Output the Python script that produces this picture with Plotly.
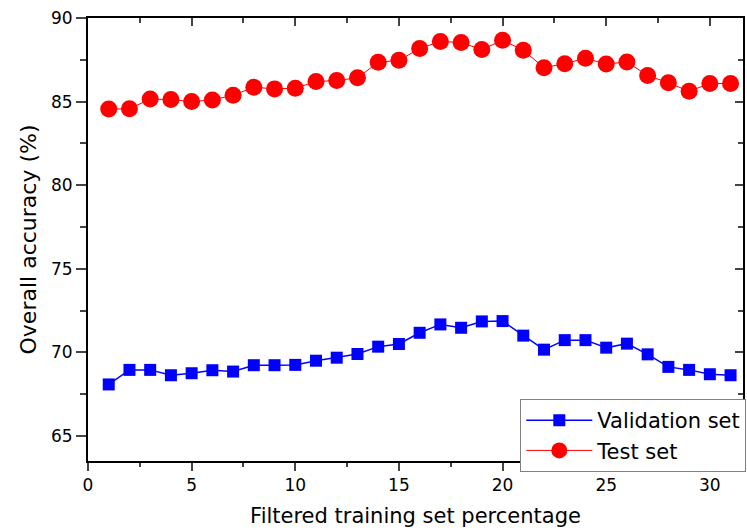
import plotly.graph_objects as go

x_pct = list(range(1, 32))
validation = [68.08, 68.95, 68.95, 68.63, 68.75, 68.93, 68.85, 69.23, 69.23, 69.25,
              69.50, 69.68, 69.90, 70.34, 70.50, 71.17, 71.67, 71.47, 71.85, 71.87,
              71.00, 70.16, 70.73, 70.73, 70.28, 70.52, 69.88, 69.13, 68.95, 68.69, 68.63]
test = [84.55, 84.57, 85.15, 85.12, 85.00, 85.10, 85.38, 85.86, 85.76, 85.80,
        86.20, 86.26, 86.42, 87.35, 87.47, 88.17, 88.60, 88.53, 88.11, 88.67,
        88.07, 87.03, 87.27, 87.59, 87.25, 87.37, 86.56, 86.12, 85.62, 86.08, 86.08]
x_ticks = [0, 5, 10, 15, 20, 25, 30]
y_ticks = [65, 70, 75, 80, 85, 90]

FONT = "DejaVu Sans, Arial, sans-serif"
XR = [0, 31.6]
YR = [63.5, 90]

fig = go.Figure()
fig.add_trace(go.Scatter(x=x_pct, y=validation, mode="lines+markers", name="Validation set",
                         line=dict(color="#0000ff", width=1.5),
                         marker=dict(symbol="square", size=12, color="#0000ff")))
fig.add_trace(go.Scatter(x=x_pct, y=test, mode="lines+markers", name="Test set",
                         line=dict(color="#ff0000", width=1),
                         marker=dict(symbol="circle", size=17, color="#ff0000")))

fig.update_layout(
    width=747, height=530,
    margin=dict(l=88, r=1, t=18, b=69),
    paper_bgcolor="white", plot_bgcolor="white",
    font=dict(family=FONT, color="black", size=17),
    showlegend=True,
    legend=dict(x=0.66, y=0.14, xanchor="left", yanchor="top",
                bgcolor="white", bordercolor="#808080", borderwidth=1,
                itemwidth=66,
                font=dict(size=21, family=FONT), tracegroupgap=0),
    xaxis=dict(range=XR, tickvals=x_ticks, ticks="outside", ticklen=8, tickwidth=1.5,
               showline=True, linecolor="black", linewidth=2, showgrid=False, zeroline=False,
               minor=dict(dtick=2.5, tick0=0, ticks="outside", ticklen=4, tickwidth=1.5, showgrid=False),
               title=dict(text="Filtered training set percentage", font=dict(size=21), standoff=14),
               tickfont=dict(size=17)),
    yaxis=dict(range=YR, tickvals=y_ticks, ticks="outside", ticklen=10, tickwidth=1.5,
               showline=True, linecolor="black", linewidth=2, showgrid=False, zeroline=False,
               minor=dict(dtick=2.5, tick0=0, ticks="outside", ticklen=6, tickwidth=1.5, showgrid=False),
               title=dict(text="Overall accuracy (%)", font=dict(size=22), standoff=8),
               tickfont=dict(size=17)),
    xaxis2=dict(range=XR, overlaying="x", side="top", tickvals=x_ticks, ticks="inside",
                ticklen=8, tickwidth=1.5, showticklabels=False, showline=True, linecolor="black",
                linewidth=2, showgrid=False, zeroline=False,
                minor=dict(dtick=2.5, tick0=0, ticks="inside", ticklen=5, tickwidth=1.5, showgrid=False)),
    yaxis2=dict(range=YR, overlaying="y", side="right", tickvals=y_ticks, ticks="inside",
                ticklen=8, tickwidth=1.5, showticklabels=False, showline=True, linecolor="black",
                linewidth=2, showgrid=False, zeroline=False,
                minor=dict(dtick=2.5, tick0=0, ticks="inside", ticklen=5, tickwidth=1.5, showgrid=False)),
)
# invisible trace to activate the mirrored axes
fig.add_trace(go.Scatter(x=[None], y=[None], xaxis="x2", yaxis="y2", showlegend=False, hoverinfo="skip"))

fig.write_html("out.html")
